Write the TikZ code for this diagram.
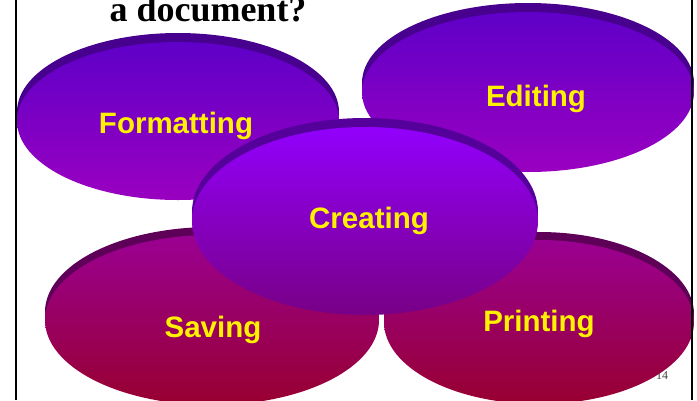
\documentclass[tikz,border=0pt]{standalone}
\usepackage{fontspec}
\setmainfont{Liberation Serif}
\newfontfamily\lblfont{Liberation Sans}
\usetikzlibrary{positioning, shapes.geometric}

\definecolor{violetA}{HTML}{5F00C8}
\definecolor{violetB}{HTML}{9A00C0}
\definecolor{violetR}{HTML}{48008E}
\definecolor{plumA}{HTML}{9A0092}
\definecolor{plumB}{HTML}{980030}
\definecolor{plumR}{HTML}{5E0058}
\definecolor{brightA}{HTML}{9200FC}
\definecolor{brightB}{HTML}{780086}
\definecolor{brightR}{HTML}{56009C}

\begin{document}
\begin{tikzpicture}[x=1pt, y=-1pt,
		blob/.style={ellipse, inner sep=0pt},
		rim/.style={ellipse, inner sep=0pt, draw=none},
		lbl/.style={anchor=base, inner sep=0pt, text=yellow, font=\lblfont\bfseries\fontsize{29.5}{29.5}\selectfont},
		cool/.style={blob, top color=violetA, bottom color=violetB},
		warm/.style={blob, top color=plumA, bottom color=plumB},
		hot/.style={blob, top color=brightA, bottom color=brightB}]
		\useasboundingbox (0,0) rectangle (697,400);
		\node[anchor=base, font=\bfseries\fontsize{36}{36}\selectfont] (title) at (208,21) {a document?};
		\node[text=black!75, font=\fontsize{12}{12}\selectfont] (page) at (662,376) {14};
		% back row
		\node[rim, fill=violetR, minimum width=322, minimum height=158] (formatting rim) at (178,112) {};
		\node[cool, minimum width=322, minimum height=158] (formatting) at (178,121) {};
		\node[lbl] (formatting text) at ([shift={(-2,12)}]formatting.center) {Formatting};
		\node[rim, fill=violetR, minimum width=332, minimum height=160] (editing rim) at (528,83) {};
		\node[cool, minimum width=332, minimum height=160] (editing) at (528,92) {};
		\node[lbl] (editing text) at ([shift={(8,14)}]editing.center) {Editing};
		% front row
		\node[rim, fill=plumR, minimum width=334, minimum height=170] (saving rim) at (212,312) {};
		\node[warm, minimum width=334, minimum height=170] (saving) at (212,320) {};
		\node[lbl] (saving text) at ([shift={(1,17)}]saving.center) {Saving};
		\node[rim, fill=plumR, minimum width=310, minimum height=164] (printing rim) at (539,314) {};
		\node[warm, minimum width=310, minimum height=164] (printing) at (539,322) {};
		\node[lbl] (printing text) at ([shift={(0,9)}]printing.center) {Printing};
		% middle
		\node[rim, fill=brightR, minimum width=346, minimum height=188] (creating rim) at (365,212) {};
		\node[hot, minimum width=346, minimum height=188] (creating) at (365,221) {};
		\node[lbl] (creating text) at ([shift={(4,7)}]creating.center) {Creating};
		% slide frame
		\coordinate (lt) at (16,0); \coordinate (lb) at (16,400);
		\coordinate (rt) at (691.5,0); \coordinate (rb) at (691.5,400);
		\draw[line width=2pt] (lt) -- (lb);
		\draw[line width=2pt] (rt) -- (rb);
	\end{tikzpicture}
\end{document}
